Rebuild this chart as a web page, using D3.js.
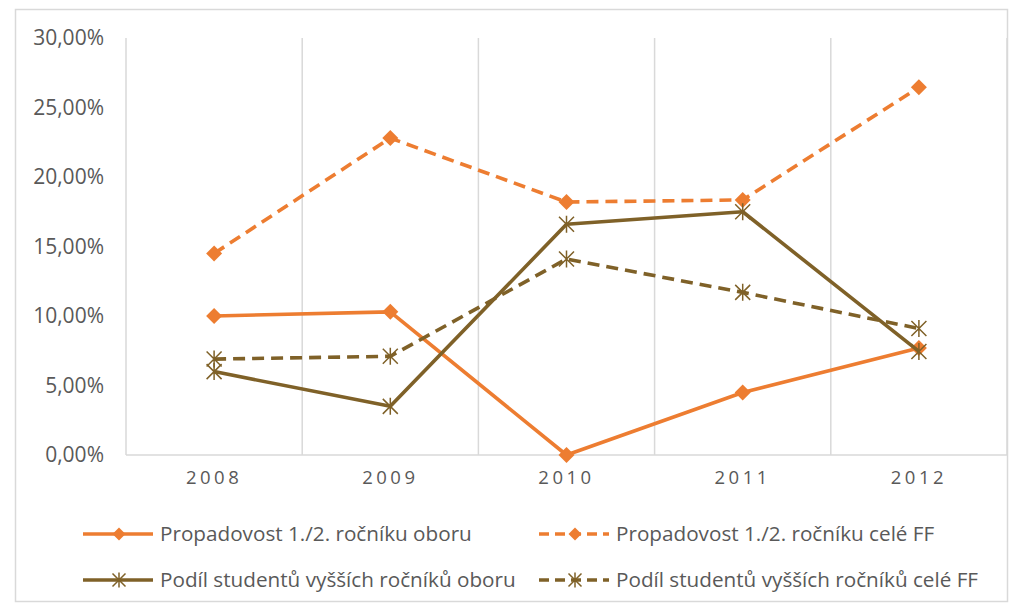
<!DOCTYPE html>
<html>
<head>
<meta charset="utf-8">
<script src="https://cdn.jsdelivr.net/npm/d3@7"></script>
<style>
  body { margin: 0; background: #fff; }
  text { font-family: "Open Sans", "Liberation Sans", sans-serif; fill: #595959; }
</style>
</head>
<body>
<div id="chart"></div>
<script>
// chart data
var years = ["2008", "2009", "2010", "2011", "2012"];
var propadOboru = [10.0, 10.3, 0.0, 4.5, 7.7];
var propadFF = [14.5, 22.8, 18.2, 18.35, 26.45];
var podilOboru = [6.0, 3.5, 16.6, 17.5, 7.45];
var podilFF = [6.9, 7.1, 14.1, 11.7, 9.1];
var yTicks = [0, 5, 10, 15, 20, 25, 30];
var seriesNames = [
  "Propadovost 1./2. ročníku oboru",
  "Propadovost 1./2. ročníku celé FF",
  "Podíl studentů vyšších ročníků oboru",
  "Podíl studentů vyšších ročníků celé FF"
];

var svgWidth = 1021;
var svgHeight = 608;
var orange = "#ED7D31";
var brown = "#7F6128";

var series = [
  { name: seriesNames[0], values: propadOboru, color: orange, dash: null, marker: "diamond" },
  { name: seriesNames[1], values: propadFF, color: orange, dash: "12,7", marker: "diamond" },
  { name: seriesNames[2], values: podilOboru, color: brown, dash: null, marker: "star" },
  { name: seriesNames[3], values: podilFF, color: brown, dash: "12,7", marker: "star" }
];

var svg = d3.select("#chart")
  .append("svg")
  .attr("width", svgWidth)
  .attr("height", svgHeight);

// outer frame
svg.append("rect")
  .attr("x", 15.5).attr("y", 9.5)
  .attr("width", 992).attr("height", 592)
  .attr("fill", "none")
  .attr("stroke", "#D9D9D9")
  .attr("stroke-width", 1.5);

var plot = { left: 126, right: 1007, top: 38, bottom: 455 };

var xScale = d3.scaleBand()
  .domain(years)
  .range([plot.left, plot.right]);

var yScale = d3.scaleLinear()
  .domain([0, 30])
  .range([plot.bottom, plot.top]);

// vertical gridlines at category boundaries
var bounds = years.map(function(d) { return xScale(d); }).concat([plot.right]);
svg.append("g").selectAll("line")
  .data(bounds)
  .enter()
  .append("line")
  .attr("x1", function(d) { return d; })
  .attr("x2", function(d) { return d; })
  .attr("y1", plot.top)
  .attr("y2", plot.bottom)
  .attr("stroke", "#D9D9D9")
  .attr("stroke-width", 1.5);

// x axis line
svg.append("line")
  .attr("x1", plot.left).attr("x2", plot.right)
  .attr("y1", plot.bottom).attr("y2", plot.bottom)
  .attr("stroke", "#D9D9D9")
  .attr("stroke-width", 1.5);

// y axis labels
var yAxis = d3.axisLeft(yScale)
  .tickValues(yTicks)
  .tickSize(0)
  .tickPadding(0)
  .tickFormat(function(d) { return d.toFixed(2).replace(".", ",") + "%"; });

var yAxisG = svg.append("g")
  .attr("transform", "translate(104,0)")
  .call(yAxis);
yAxisG.select(".domain").remove();
yAxisG.selectAll("text")
  .attr("font-size", 21)
  .style("font-family", "'Open Sans', sans-serif")
  .attr("fill", "#595959");

// x axis labels
var xAxis = d3.axisBottom(xScale).tickSize(0).tickPadding(0);
var xAxisG = svg.append("g")
  .attr("transform", "translate(0," + (plot.bottom + 16) + ")")
  .call(xAxis);
xAxisG.select(".domain").remove();
xAxisG.selectAll("text")
  .attr("font-size", 18.5)
  .style("font-family", "'Open Sans', sans-serif")
  .attr("letter-spacing", "3.5px")
  .attr("fill", "#595959");

function xPos(i) { return xScale(years[i]) + xScale.bandwidth() / 2; }

function drawMarker(g, type, x, y, color, r) {
  if (type === "diamond") {
    g.append("path")
      .attr("d", d3.symbol().type(d3.symbolSquare).size(2 * r * r)())
      .attr("transform", "translate(" + x + "," + y + ") rotate(45)")
      .attr("fill", color);
  } else {
    var path = "M" + (-r) + "," + (-r) + "L" + r + "," + r +
      "M" + (-r) + "," + r + "L" + r + "," + (-r) +
      "M0," + (-r - 1) + "L0," + (r + 1);
    g.append("path")
      .attr("d", path)
      .attr("transform", "translate(" + x + "," + y + ")")
      .attr("stroke", color)
      .attr("stroke-width", 1.5)
      .attr("fill", "none");
  }
}

var line = d3.line()
  .x(function(d, i) { return xPos(i); })
  .y(function(d) { return yScale(d); });

series.forEach(function(s) {
  var g = svg.append("g");
  g.append("path")
    .datum(s.values)
    .attr("d", line)
    .attr("fill", "none")
    .attr("stroke", s.color)
    .attr("stroke-width", 3.6)
    .attr("stroke-dasharray", s.dash)
    .attr("stroke-linejoin", "round");
  s.values.forEach(function(v, i) {
    drawMarker(g, s.marker, xPos(i), yScale(v), s.color, s.marker === "diamond" ? 8 : 7.5);
  });
});

// legend
var legendPos = [
  { x: 83, y: 534 }, { x: 539, y: 534 },
  { x: 83, y: 580 }, { x: 539, y: 580 }
];
series.forEach(function(s, i) {
  var p = legendPos[i];
  var g = svg.append("g").attr("transform", "translate(" + p.x + "," + p.y + ")");
  g.append("line")
    .attr("x1", 0).attr("x2", 70)
    .attr("y1", 0).attr("y2", 0)
    .attr("stroke", s.color)
    .attr("stroke-width", 3.3)
    .attr("stroke-dasharray", s.dash ? "10,6" : null);
  drawMarker(g, s.marker, 36, 0, s.color, s.marker === "diamond" ? 6.5 : 6.5);
  g.append("text")
    .attr("x", 77)
    .attr("y", 0)
    .attr("dy", "0.35em")
    .attr("font-size", 20.7)
    .text(s.name);
});
</script>
</body>
</html>
